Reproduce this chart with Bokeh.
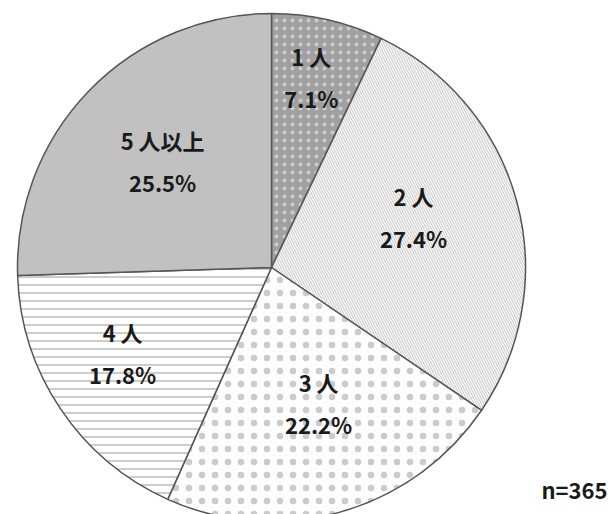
import math
from bokeh.plotting import figure
from bokeh.models import Range1d, Label
from bokeh.embed import file_html
from bokeh.resources import INLINE

categories = ["1 人", "2 人", "3 人", "4 人", "5 人以上"]
percents = [7.1, 27.4, 22.2, 17.8, 25.5]
pct_labels = ["7.1%", "27.4%", "22.2%", "17.8%", "25.5%"]
n_label = "n=365"

# style
fill_colors = ["#a0a0a0", "#fbfbfb", "#fdfdfd", "#ffffff", "#c1c1c1"]
hatch_patterns = ["dot", "left_diagonal_line", "dot", "horizontal_line", " "]
hatch_colors = ["#cccccc", "#c4c4c4", "#cbcbcb", "#aaaaaa", "#c1c1c1"]
hatch_scales = [8, 5, 13, 8, 8]
hatch_weights = [1.5, 1, 1.4, 1.2, 1]
label_r = [0.768, 0.593, 0.563, 0.675, 0.601]
label_dang = [-1.0, -4.3, -3.4, 4.1, 0.4]  # degrees, clockwise

W, H = 611, 514
cx, cy, R = 271, -267, 254

p = figure(width=W, height=H, output_backend="svg", toolbar_location=None,
           x_range=Range1d(0, W), y_range=Range1d(-H, 0),
           min_border=0, outline_line_color=None)
p.axis.visible = False
p.grid.visible = False

total = sum(percents)
starts, ends = [], []
acc = 0.0
for v in percents:
    a0 = math.pi / 2 - 2 * math.pi * acc / total
    acc += v
    a1 = math.pi / 2 - 2 * math.pi * acc / total
    starts.append(a1)
    ends.append(a0)

for i in range(len(percents)):
    p.wedge(x=cx, y=cy, radius=R, start_angle=starts[i], end_angle=ends[i],
            fill_color=fill_colors[i], line_color="#555555", line_width=1.5,
            hatch_pattern=hatch_patterns[i], hatch_color=hatch_colors[i],
            hatch_scale=hatch_scales[i], hatch_weight=hatch_weights[i])

font = "Noto Sans CJK JP"
fs = "22px"
for i in range(len(percents)):
    mid = (starts[i] + ends[i]) / 2 - math.radians(label_dang[i])
    lx = cx + R * label_r[i] * math.cos(mid)
    ly = cy + R * label_r[i] * math.sin(mid)
    p.add_layout(Label(x=lx, y=ly + 21, text=categories[i], text_font=font,
                       text_font_style="bold", text_font_size=fs,
                       text_align="center", text_baseline="middle", text_color="#1a1a1a"))
    p.add_layout(Label(x=lx, y=ly - 21, text=pct_labels[i], text_font=font,
                       text_font_style="bold", text_font_size=fs,
                       text_align="center", text_baseline="middle", text_color="#1a1a1a"))

p.add_layout(Label(x=607, y=-488, text=n_label, text_font=font, text_font_style="bold",
                   text_font_size=fs, text_align="right", text_baseline="middle",
                   text_color="#1a1a1a"))

open("out.html", "w").write(file_html(p, INLINE))
